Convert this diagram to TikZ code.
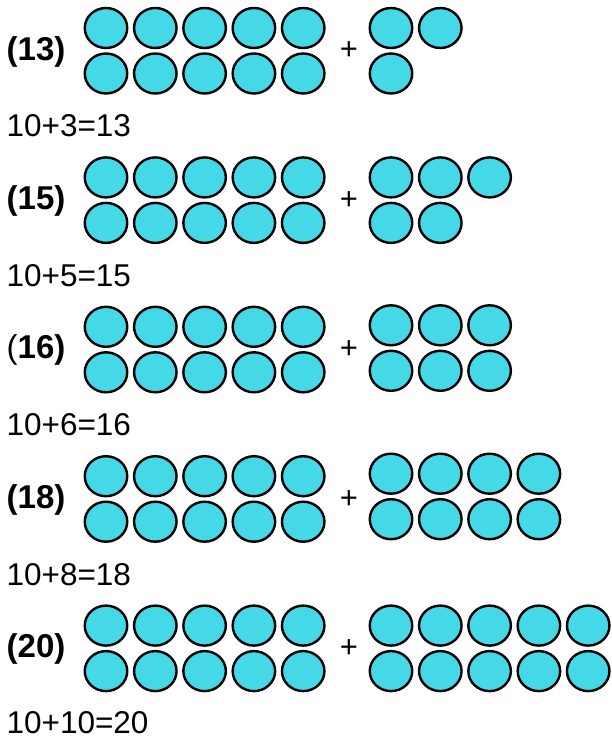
\documentclass[tikz,border=0pt]{standalone}
\usepackage{fontspec}
\setmainfont{Liberation Sans}
\usepackage{tikz}
\usepackage{xcolor}
\definecolor{dot_cyan}{HTML}{45D9E8}
\usetikzlibrary{shapes.geometric,positioning,calc}
\tikzset{DOT/.style={ellipse,minimum width=42.5pt,minimum height=40pt,inner sep=0pt,draw,line width=2.4pt,fill=dot_cyan}}
\tikzset{LABEL/.style={font=\fontsize{33}{38}\selectfont\bfseries,inner sep=0pt,anchor=west}}
\tikzset{PLUS/.style={font=\fontsize{31}{36}\selectfont,inner sep=0pt}}
\tikzset{EQN/.style={font=\fontsize{31.5}{36}\selectfont,inner sep=0pt,anchor=base west}}

\begin{document}
\begin{tikzpicture}[x=1pt,y=1pt]
\useasboundingbox (0,0) rectangle (611,-738);

% 13
\coordinate (c_ten13) at (106,-28);
\coordinate (c_add13) at (391,-28);
\node[LABEL] (n_lbl13) at ($(c_ten13)+(-99.5,-23.5)$) {(13)};
\foreach \k in {0,...,4} {
  \node[DOT] (n_ten13_a\k) at ($(c_ten13)+(\k*49.3,0)$) {};
  \node[DOT] (n_ten13_b\k) at ($(c_ten13)+(\k*49.3,-45.5)$) {};
}
\node[PLUS] (n_plus13) at ($(c_ten13)+(243,-23)$) {+};
\foreach \k in {0,1} {
  \node[DOT] (n_add13_a\k) at ($(c_add13)+(\k*49.3,0)$) {};
}
\node[DOT] (n_add13_b0) at ($(c_add13)+(0,-45.5)$) {};
\node[EQN] (n_eq13) at ($(c_ten13)+(-99.6,-109)$) {10+3=13};

% 15
\coordinate (c_ten15) at (106,-177.4);
\coordinate (c_add15) at (391,-177.4);
\node[LABEL] (n_lbl15) at ($(c_ten15)+(-99.5,-23.5)$) {(15)};
\foreach \k in {0,...,4} {
  \node[DOT] (n_ten15_a\k) at ($(c_ten15)+(\k*49.3,0)$) {};
  \node[DOT] (n_ten15_b\k) at ($(c_ten15)+(\k*49.3,-45.5)$) {};
}
\node[PLUS] (n_plus15) at ($(c_ten15)+(243,-23)$) {+};
\foreach \k in {0,1,2} {
  \node[DOT] (n_add15_a\k) at ($(c_add15)+(\k*49.3,0)$) {};
}
\foreach \k in {0,1} {
  \node[DOT] (n_add15_b\k) at ($(c_add15)+(\k*49.3,-45.5)$) {};
}
\node[EQN] (n_eq15) at ($(c_ten15)+(-99.6,-109)$) {10+5=15};

% 16
\coordinate (c_ten16) at (106,-326.8);
\coordinate (c_add16) at (391,-325.3);
\node[LABEL] (n_lbl16) at ($(c_ten16)+(-99.5,-23.5)$) {{\mdseries(}16)};
\foreach \k in {0,...,4} {
  \node[DOT] (n_ten16_a\k) at ($(c_ten16)+(\k*49.3,0)$) {};
  \node[DOT] (n_ten16_b\k) at ($(c_ten16)+(\k*49.3,-45.5)$) {};
}
\node[PLUS] (n_plus16) at ($(c_ten16)+(243,-23)$) {+};
\foreach \k in {0,1,2} {
  \node[DOT] (n_add16_a\k) at ($(c_add16)+(\k*49.3,0)$) {};
  \node[DOT] (n_add16_b\k) at ($(c_add16)+(\k*49.3,-45.5)$) {};
}
\node[EQN] (n_eq16) at ($(c_ten16)+(-99.6,-109)$) {10+6=16};

% 18
\coordinate (c_ten18) at (106,-476.2);
\coordinate (c_add18) at (391,-473.7);
\node[LABEL] (n_lbl18) at ($(c_ten18)+(-99.5,-23.5)$) {(18)};
\foreach \k in {0,...,4} {
  \node[DOT] (n_ten18_a\k) at ($(c_ten18)+(\k*49.3,0)$) {};
  \node[DOT] (n_ten18_b\k) at ($(c_ten18)+(\k*49.3,-45.5)$) {};
}
\node[PLUS] (n_plus18) at ($(c_ten18)+(243,-23)$) {+};
\foreach \k in {0,...,3} {
  \node[DOT] (n_add18_a\k) at ($(c_add18)+(\k*49.3,0)$) {};
  \node[DOT] (n_add18_b\k) at ($(c_add18)+(\k*49.3,-45.5)$) {};
}
\node[EQN] (n_eq18) at ($(c_ten18)+(-99.6,-109)$) {10+8=18};

% 20
\coordinate (c_ten20) at (106,-625.6);
\coordinate (c_add20) at (391,-625.6);
\node[LABEL] (n_lbl20) at ($(c_ten20)+(-99.5,-23.5)$) {(20)};
\foreach \k in {0,...,4} {
  \node[DOT] (n_ten20_a\k) at ($(c_ten20)+(\k*49.3,0)$) {};
  \node[DOT] (n_ten20_b\k) at ($(c_ten20)+(\k*49.3,-45.5)$) {};
  \node[DOT] (n_add20_a\k) at ($(c_add20)+(\k*49.3,0)$) {};
  \node[DOT] (n_add20_b\k) at ($(c_add20)+(\k*49.3,-45.5)$) {};
}
\node[PLUS] (n_plus20) at ($(c_ten20)+(243,-23)$) {+};
\node[EQN] (n_eq20) at ($(c_ten20)+(-99.6,-107.4)$) {10+10=20};

\end{tikzpicture}
\end{document}
